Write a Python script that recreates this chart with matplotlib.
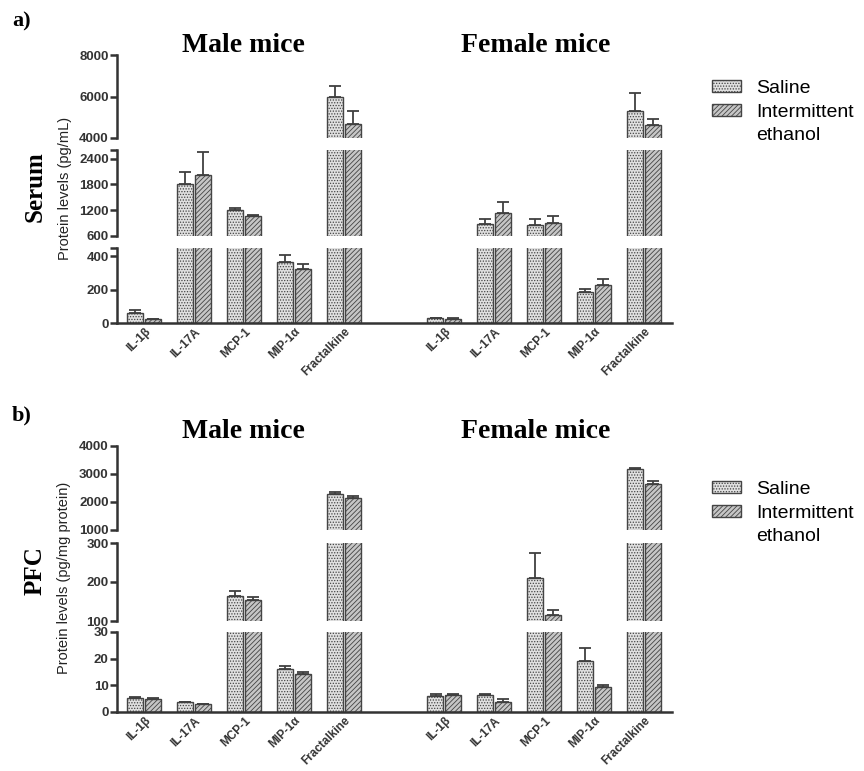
import numpy as np
import matplotlib.pyplot as plt
from matplotlib.patches import Patch

plt.rcParams['font.family'] = ['Liberation Sans', 'DejaVu Sans']
plt.rcParams['hatch.linewidth'] = 0.6

cytokines = ['IL-1β', 'IL-17A', 'MCP-1', 'MIP-1α', 'Fractalkine']

# serum (pg/mL)
serum_male_saline = [60, 1800, 1200, 368, 5990]
serum_male_saline_err = [18, 300, 55, 38, 500]
serum_male_ethanol = [22, 2030, 1060, 327, 4660]
serum_male_ethanol_err = [4, 520, 30, 30, 650]
serum_female_saline = [28, 873, 857, 186, 5300]
serum_female_saline_err = [3, 125, 140, 18, 850]
serum_female_ethanol = [27, 1130, 903, 230, 4610]
serum_female_ethanol_err = [3, 250, 165, 35, 290]

# PFC (pg/mg protein)
pfc_male_saline = [5.3, 3.7, 165, 16.2, 2280]
pfc_male_saline_err = [0.3, 0.1, 12, 0.9, 60]
pfc_male_ethanol = [4.9, 3.0, 155, 14.4, 2135]
pfc_male_ethanol_err = [0.5, 0.1, 7, 0.5, 70]
pfc_female_saline = [5.9, 6.5, 211, 19.3, 3190]
pfc_female_saline_err = [0.8, 0.2, 63, 4.8, 20]
pfc_female_ethanol = [6.4, 3.9, 116, 9.3, 2660]
pfc_female_ethanol_err = [0.3, 1.0, 13, 1.0, 80]

W, H = 864, 771
fig = plt.figure(figsize=(W / 100, H / 100), dpi=100)

SAL = dict(facecolor='#e0e0e0', hatch='......', edgecolor='#444444')
ETH = dict(facecolor='#c6c6c6', hatch='///////', edgecolor='#444444')
EKW = dict(ecolor='#404040', elinewidth=1.3, capsize=4, capthick=1.3)

x = np.concatenate([np.arange(5), np.arange(5) + 6])
labels = cytokines + cytokines


def px_axes(top, bottom, left=117, right=672):
    return fig.add_axes([left / W, 1 - bottom / H, (right - left) / W, (bottom - top) / H])


def draw_panel(segments, sal, sal_err, eth, eth_err):
    zeros = np.zeros(len(x))
    n = len(segments)
    for i, (top, bottom, lo, hi, ticks, hidden) in enumerate(segments):
        ax = px_axes(top, bottom)
        ax.bar(x - 0.18, sal, 0.32, yerr=[zeros, sal_err], linewidth=1,
               error_kw=EKW, **SAL)
        ax.bar(x + 0.18, eth, 0.32, yerr=[zeros, eth_err], linewidth=1,
               error_kw=EKW, **ETH)
        ax.set_xlim(-0.55, 10.55)
        ax.set_ylim(lo, hi)
        for s in ['top', 'right']:
            ax.spines[s].set_visible(False)
        ax.spines['left'].set_linewidth(1.8)
        ax.spines['left'].set_color('#333333')
        ax.set_yticks(ticks)
        ax.set_yticklabels(['' if t in hidden else str(t) for t in ticks],
                           fontsize=9.5, fontweight='bold', color='#333333')
        ax.tick_params(axis='y', length=5, width=1.8, color='#333333', pad=1)
        if i == n - 1:
            ax.spines['bottom'].set_linewidth(1.8)
            ax.spines['bottom'].set_color('#333333')
            ax.set_xticks(x)
            ax.set_xticklabels(labels, rotation=45, ha='right', rotation_mode='anchor',
                               fontsize=8.5, fontweight='bold', color='#333333')
            ax.tick_params(axis='x', length=0, pad=2)
        else:
            ax.spines['bottom'].set_visible(False)
            ax.set_xticks([])
        ax.patch.set_alpha(0)


draw_panel([(55, 138, 4000, 8000, [4000, 6000, 8000], []),
            (150, 236, 600, 2600, [600, 1200, 1800, 2400, 2600], [2600]),
            (248, 323, 0, 450, [0, 200, 400, 450], [450])],
           serum_male_saline + serum_female_saline,
           serum_male_saline_err + serum_female_saline_err,
           serum_male_ethanol + serum_female_ethanol,
           serum_male_ethanol_err + serum_female_ethanol_err)

draw_panel([(446, 530, 1000, 4000, [1000, 2000, 3000, 4000], []),
            (543, 621, 100, 300, [100, 200, 300], []),
            (632, 712, 0, 30, [0, 10, 20, 30], [])],
           pfc_male_saline + pfc_female_saline,
           pfc_male_saline_err + pfc_female_saline_err,
           pfc_male_ethanol + pfc_female_ethanol,
           pfc_male_ethanol_err + pfc_female_ethanol_err)


def ftext(px, py, s, **kw):
    fig.text(px / W, 1 - py / H, s, ha='center', va='center', **kw)


serif = dict(family='Liberation Serif', fontweight='bold')
ftext(22, 21, 'a)', fontsize=16, **serif)
ftext(22, 415, 'b)', fontsize=16, **serif)
for py in (45, 432):
    ftext(243, py, 'Male mice', fontsize=20, **serif)
    ftext(536, py, 'Female mice', fontsize=20, **serif)
ftext(35, 187, 'Serum', fontsize=18, rotation=90, **serif)
ftext(35, 571, 'PFC', fontsize=18, rotation=90, **serif)
ftext(65, 188, 'Protein levels (pg/mL)', fontsize=10.5, rotation=90, color='#222222')
ftext(64, 578, 'Protein levels (pg/mg protein)', fontsize=10.5, rotation=90, color='#222222')

handles = [Patch(linewidth=1, **SAL), Patch(linewidth=1, **ETH),
           Patch(facecolor='none', edgecolor='none')]
for py in (72, 473):
    fig.legend(handles, ['Saline', 'Intermittent', 'ethanol'], loc='upper left',
               bbox_to_anchor=(704 / W, 1 - py / H), frameon=False, fontsize=14,
               handlelength=1.5, handleheight=0.55, labelspacing=0.35,
               handletextpad=0.8, borderaxespad=0)

fig.savefig('out.png', dpi=100)
